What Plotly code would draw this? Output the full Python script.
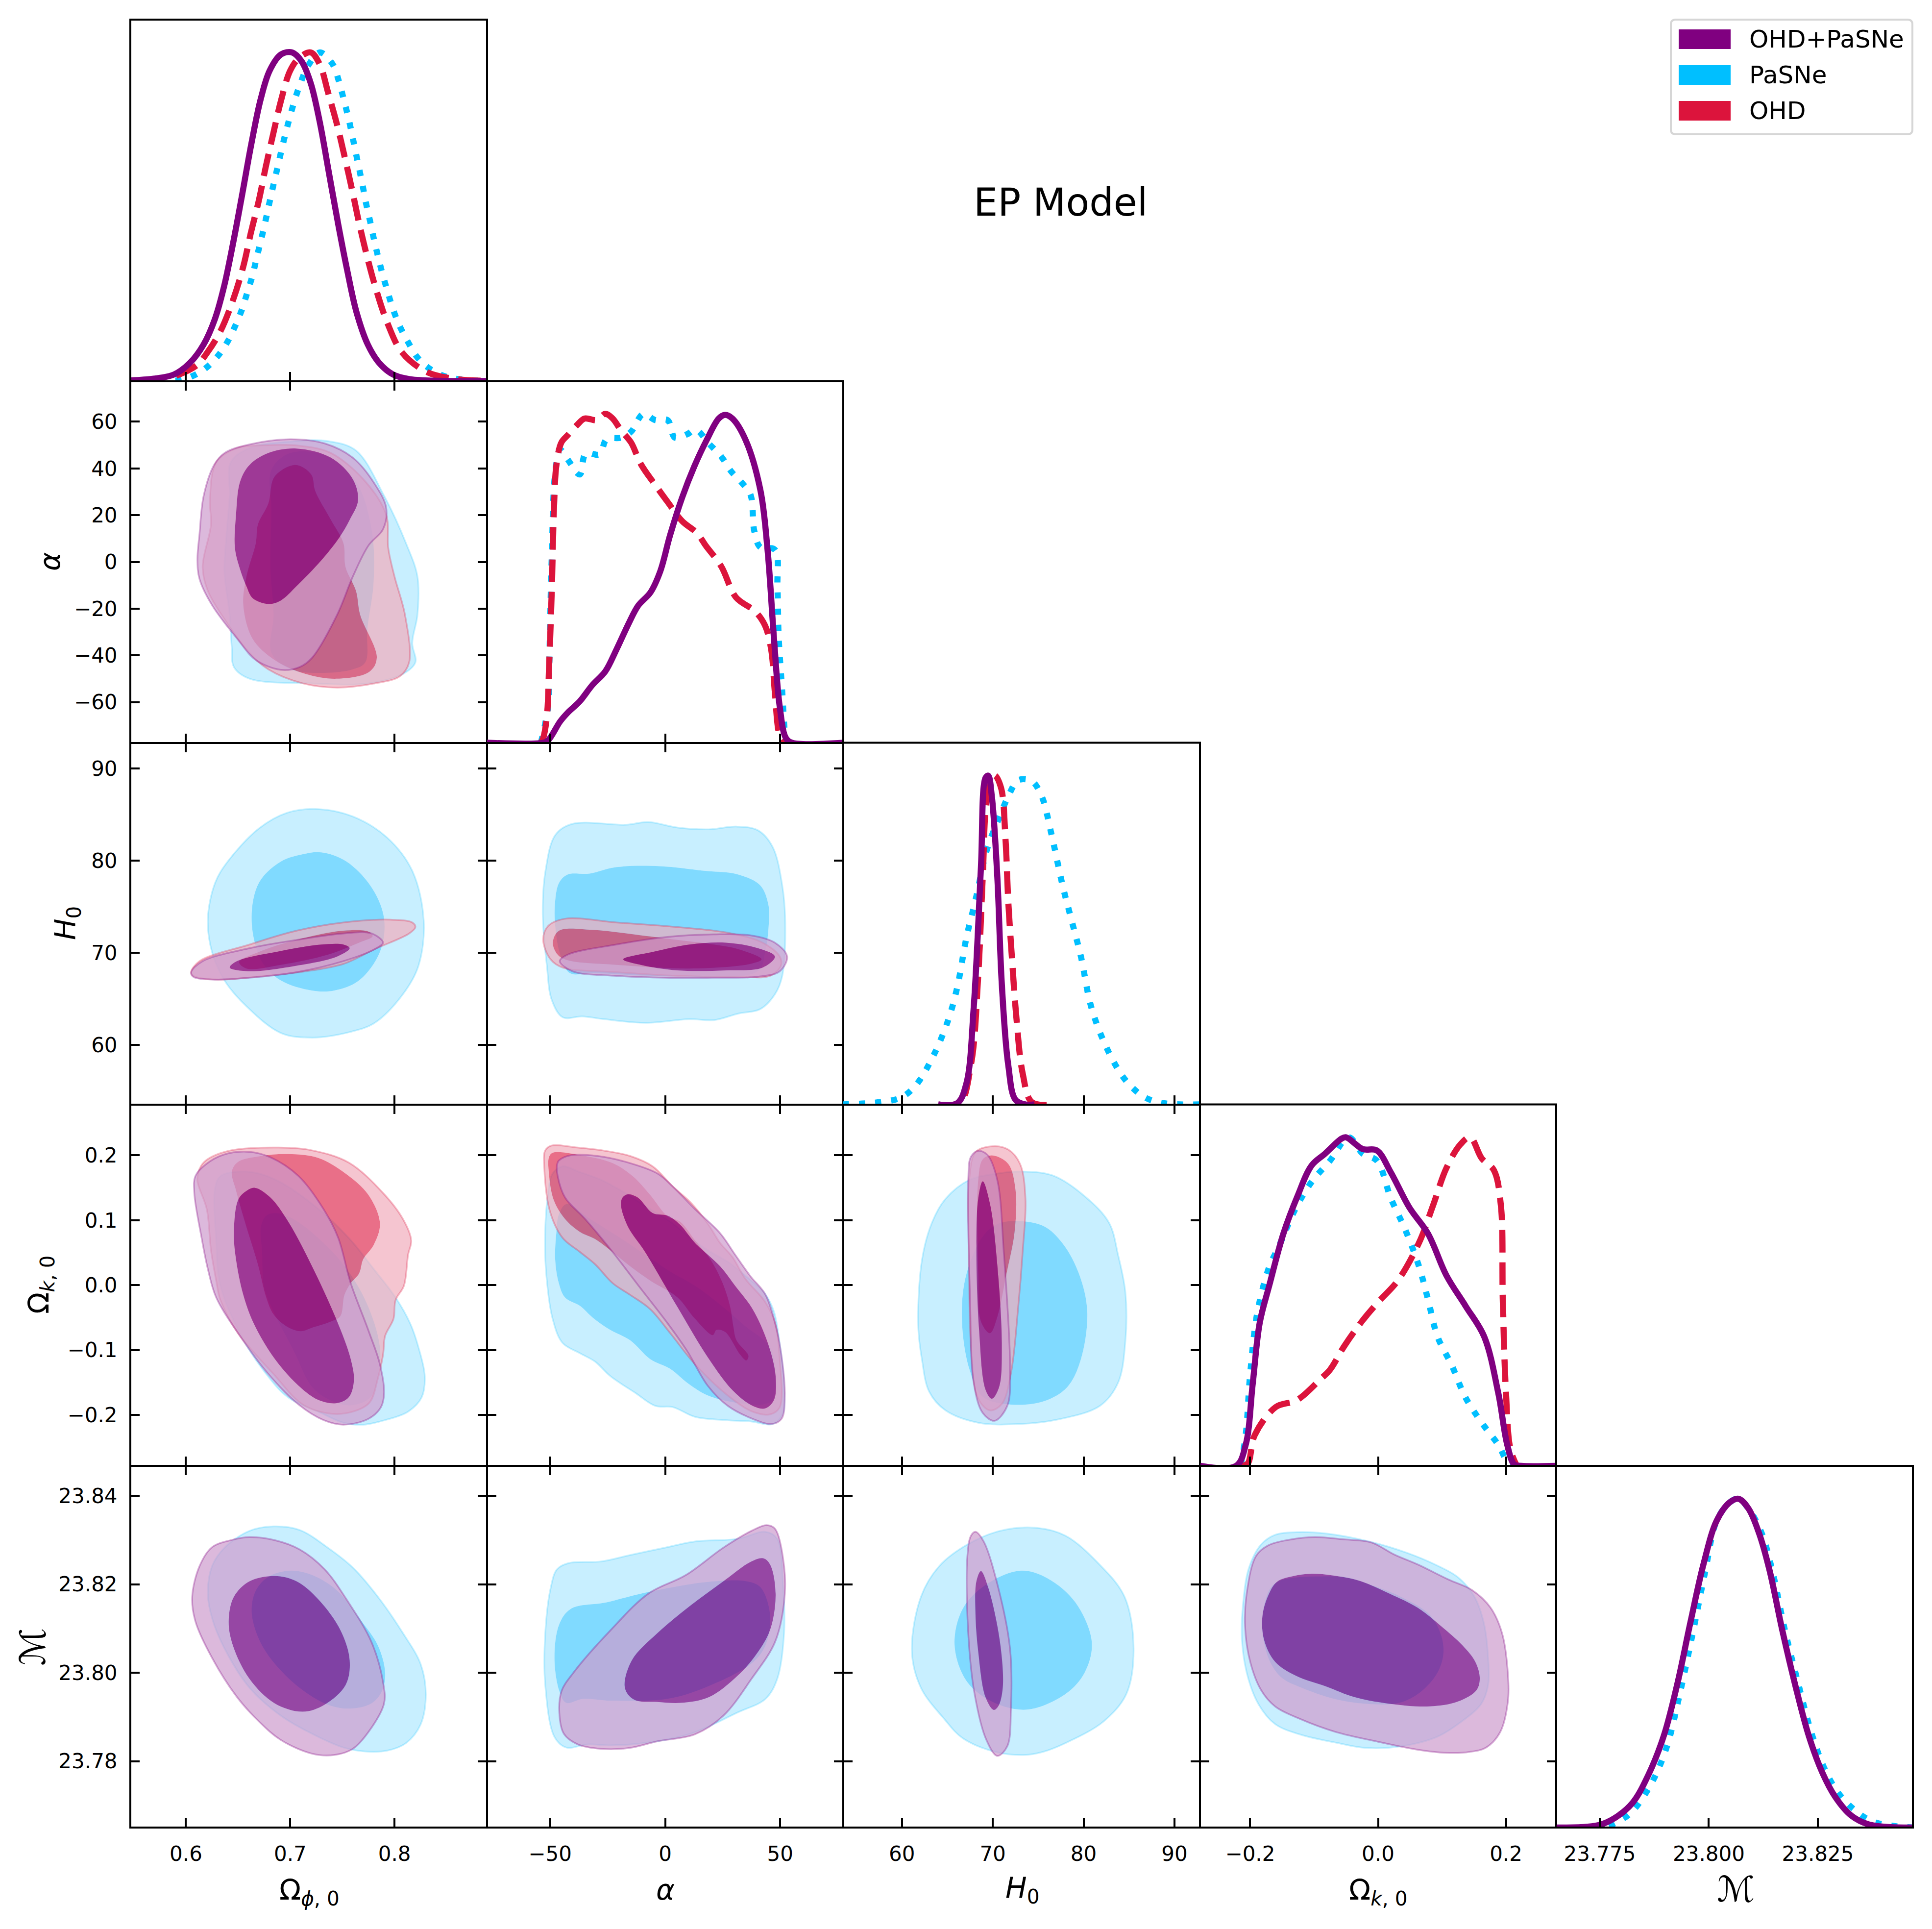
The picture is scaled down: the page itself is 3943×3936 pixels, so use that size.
import plotly.graph_objects as go

W, H = 3943, 3936
PURPLE, CYAN, CRIMSON = (128, 0, 128), (0, 191, 255), (220, 20, 60)
series_names = ["OHD+PaSNe", "PaSNe", "OHD"]
axis_titles = ["Ω<sub><i>ϕ</i>, 0</sub>", "<i>α</i>", "<i>H</i><sub>0</sub>", "Ω<sub><i>k</i>, 0</sub>", "ℳ"]

x_ticks = [[0.6, 0.7, 0.8], [-50, 0, 50], [60, 70, 80, 90], [-0.2, 0.0, 0.2], [23.775, 23.800, 23.825]]
y_ticks = [None, [-60, -40, -20, 0, 20, 40, 60], [60, 70, 80, 90], [-0.2, -0.1, 0.0, 0.1, 0.2], [23.78, 23.80, 23.82, 23.84]]
axis_ranges = [[0.5467, 0.8887], [-77.4, 77.4], [53.55, 92.8], [-0.2785, 0.2785], [23.765, 23.8468]]

# ---------- 1D marginals (value, normalised density) ----------
omphi_purple = [(.547,.002),(.569,.007),(.5886,.02),(.6037,.055),(.6169,.111),(.6278,.189),(.6365,.287),(.6453,.421),(.654,.569),(.6628,.723),(.6716,.857),(.6803,.945),(.6912,.994),(.7018,1),(.7109,.973),(.7197,.906),(.7284,.787),(.7372,.632),(.746,.477),(.7547,.336),(.7635,.21),(.7744,.111),(.7853,.055),(.7985,.02),(.8138,.006),(.8379,.001),(.888,0)]
omphi_crimson = [(.5906,.016),(.6103,.048),(.6212,.09),(.6333,.153),(.6453,.248),(.6551,.35),(.6621,.449),(.67,.551),(.6766,.653),(.6838,.754),(.6912,.854),(.7,.945),(.7088,.984),(.7197,1),(.7284,.963),(.7363,.878),(.7449,.78),(.7525,.678),(.7595,.579),(.7663,.477),(.774,.375),(.7825,.277),(.793,.178),(.8072,.087),(.8313,.027),(.8597,.006),(.888,.001)]
omphi_cyan = [(.59,.001),(.6015,.009),(.6168,.034),(.6295,.072),(.6394,.117),(.647,.166),(.6536,.217),(.6589,.27),(.6639,.322),(.6678,.375),(.672,.429),(.6759,.482),(.6796,.536),(.6834,.59),(.6873,.643),(.6912,.697),(.6952,.75),(.6996,.803),(.7044,.856),(.71,.908),(.717,.959),(.7284,1),(.7405,.965),(.7466,.913),(.751,.861),(.7554,.806),(.7591,.753),(.7626,.699),(.7661,.646),(.7696,.592),(.7729,.538),(.7766,.486),(.7803,.431),(.7842,.379),(.7886,.324),(.7934,.272),(.7985,.219),(.805,.167),(.8127,.12),(.8219,.072),(.8339,.037),(.8495,.013),(.8663,.004),(.888,.001)]

alpha_purple = [(-77.6,0),(-53,0),(-50.9,.007),(-45.6,.065),(-42.4,.091),(-37.1,.126),(-31.8,.174),(-26,.217),(-21.2,.283),(-15.9,.362),(-11.7,.417),(-6.4,.457),(-2.1,.522),(2.1,.630),(7.4,.746),(12.7,.841),(18,.920),(23.3,.986),(26,.997),(29.2,.986),(35,.920),(41.4,.768),(44.5,.587),(47.2,.326),(49.8,.109),(52.5,.014),(55.1,0),(77.4,0)]
alpha_crimson = [(-54,0),(-53,.014),(-51.4,.080),(-50.4,.239),(-49.3,.457),(-48.3,.717),(-47.2,.848),(-45.1,.913),(-42.4,.935),(-38.2,.967),(-35,.986),(-29.7,.981),(-26,1),(-22.8,.986),(-19.1,.949),(-14.8,.913),(-10.6,.848),(-4.2,.783),(1.1,.732),(7.4,.674),(13.8,.638),(17.5,.601),(24.4,.536),(30.8,.442),(39.2,.399),(43.5,.355),(46.1,.283),(47.7,.152),(49.8,.022),(52,0)]
alpha_cyan = [(-54,0),(-50.9,.109),(-50.4,.225),(-49.3,.558),(-47.7,.826),(-45.6,.891),(-42.4,.862),(-37.1,.816),(-34.5,.880),(-28.6,.877),(-25.4,.923),(-19.1,.928),(-14.8,.946),(-9.5,1),(-4.2,.981),(1.1,.981),(4.2,.928),(9.5,.938),(13.3,.952),(19.1,.909),(24.4,.870),(28.6,.826),(33.4,.790),(37.1,.754),(38.7,.645),(41.4,.594),(47.7,.587),(48.8,.471),(49.3,.326),(50.9,.152),(52,.036),(53,0)]

h0_purple = [(64,0),(66.1,.004),(67.1,.064),(67.9,.293),(68.7,.721),(69.2,.993),(69.5,1),(69.9,.936),(70.5,.693),(71,.364),(71.7,.121),(72.5,.014),(73.6,0),(74.6,0)]
h0_crimson = [(64,0),(66.3,0),(67.6,.121),(68.4,.393),(68.9,.693),(69.4,.936),(70.2,1),(70.9,.964),(71.4,.807),(71.7,.621),(72.1,.45),(72.6,.264),(73.3,.093),(74.3,.007),(76.4,0)]
h0_cyan = [(53.5,0),(57.6,.007),(59.9,.021),(61.5,.057),(63.5,.15),(65.1,.257),(66.1,.357),(67.1,.507),(68.1,.621),(69.4,.779),(70.7,.871),(71.8,.943),(72.8,.986),(74.3,.983),(75.4,.936),(76.4,.829),(77.7,.664),(78.7,.557),(79.7,.45),(80.8,.3),(82.3,.186),(84.1,.093),(85.4,.05),(86.9,.019),(89,.003),(92.7,0)]

omk_purple = [(-.278,0),(-.222,0),(-.207,.064),(-.196,.25),(-.185,.436),(-.170,.55),(-.148,.707),(-.126,.821),(-.104,.914),(-.083,.95),(-.057,.996),(-.050,1),(-.024,.964),(-.002,.96),(.020,.893),(.049,.786),(.078,.707),(.107,.579),(.137,.486),(.166,.393),(.188,.221),(.202,.064),(.213,.004),(.224,0),(.278,0)]
omk_crimson = [(-.215,0),(-.204,.007),(-.193,.093),(-.160,.179),(-.127,.2),(-.09,.264),(-.075,.293),(-.053,.364),(-.024,.443),(.001,.5),(.031,.564),(.064,.679),(.086,.793),(.107,.907),(.129,.979),(.144,1),(.162,.936),(.181,.9),(.192,.793),(.195,.507),(.2,.221),(.207,.05),(.217,0)]
omk_cyan = [(-.215,0),(-.207,.093),(-.200,.279),(-.189,.464),(-.170,.607),(-.156,.664),(-.130,.779),(-.104,.864),(-.075,.929),(-.046,1),(-.024,.95),(-.002,.929),(.020,.814),(.042,.721),(.064,.607),(.078,.507),(.093,.393),(.115,.307),(.137,.207),(.166,.121),(.188,.064),(.202,.014),(.213,0)]

m_purple = [(23.7651,0),(23.7746,.007),(23.7783,.028),(23.7825,.075),(23.7861,.159),(23.7897,.280),(23.7928,.438),(23.7958,.625),(23.7988,.802),(23.8018,.933),(23.8048,.989),(23.8068,1),(23.8091,.970),(23.8115,.896),(23.8139,.784),(23.8169,.597),(23.8199,.429),(23.8229,.280),(23.8260,.168),(23.829,.093),(23.8326,.037),(23.8368,.009),(23.8468,0)]
m_cyan = [(23.7771,.005),(23.7819,.042),(23.7867,.131),(23.7903,.243),(23.7934,.41),(23.7964,.597),(23.7991,.774),(23.8018,.933),(23.8048,.989),(23.8068,1),(23.8091,.970),(23.8121,.896),(23.8145,.784),(23.8175,.597),(23.8205,.438),(23.8235,.289),(23.8266,.177),(23.8296,.107),(23.8332,.056),(23.8374,.019),(23.8423,.005),(23.8468,0)]

# ---------- 2D contours: alpha vs Omega_phi ----------
a_phi_cyan_out = [(.736,51.7),(.763,47.7),(.790,28.3),(.811,8),(.822,-6.3),(.822,-22.6),(.817,-34.8),(.820,-43),(.808,-48),(.775,-52),(.721,-52),(.661,-50),(.646,-45),(.644,-37),(.642,-22.6),(.637,-4.3),(.639,12),(.642,28.3),(.643,42.6),(.661,48.7),(.706,51.7),(.736,51.7)]
a_phi_cyan_in = [(.700,46.6),(.733,45.6),(.763,34.4),(.778,14),(.780,-8.4),(.774,-28.7),(.772,-43),(.760,-46),(.733,-47.5),(.700,-46),(.682,-39),(.684,-22.6),(.681,-2.2),(.682,22),(.682,39.5),(.700,46.6)]
a_phi_crimson_out = [(.679,50),(.709,49.7),(.739,46.6),(.772,34.4),(.792,20.2),(.794,5.9),(.800,-6.3),(.810,-22.6),(.814,-43),(.805,-49),(.781,-52),(.745,-53.8),(.712,-52),(.679,-46),(.661,-39),(.637,-24.6),(.621,-12.4),(.616,-2.2),(.624,16),(.623,26.3),(.629,42.6),(.649,48.7),(.679,50)]
a_phi_crimson_in = [(.705,41.5),(.720,37.5),(.724,30.3),(.739,18),(.751,8),(.753,-2.2),(.763,-12.4),(.767,-22.6),(.783,-41),(.776,-47),(.745,-50),(.715,-48),(.685,-42),(.664,-33),(.655,-18.5),(.658,-6.3),(.667,8),(.669,16),(.679,25),(.685,36.5),(.705,41.5)]
a_phi_purple_out = [(.70,52.5),(.733,50.7),(.760,44.6),(.781,33.4),(.792,23.2),(.789,14),(.775,7),(.760,-6.3),(.745,-22.6),(.721,-41),(.709,-45),(.691,-46.2),(.667,-42),(.649,-32.8),(.625,-18.5),(.613,-7.3),(.611,.8),(.613,12),(.617,28.3),(.627,41.5),(.637,46.6),(.661,50.3),(.70,52.5)]
a_phi_purple_in = [(.706,48.5),(.739,44.6),(.760,35.4),(.765,26.3),(.757,18),(.747,10.4),(.730,.8),(.706,-10.4),(.691,-16.5),(.679,-18),(.664,-15.5),(.658,-10.4),(.652,-3.3),(.647,5.9),(.648,20),(.652,34.4),(.661,41.5),(.679,46.6),(.706,48.5)]

# ---------- H0 vs Omega_phi ----------
h_phi_cyan_out = [(.727,85.6),(.760,84.8),(.793,82.5),(.817,78.9),(.828,73.5),(.823,68.6),(.808,65.5),(.781,62.4),(.757,61.4),(.721,60.8),(.691,61.3),(.658,64.2),(.637,67),(.625,70.1),(.621,73.7),(.628,77.6),(.640,79.9),(.670,83.5),(.697,85.2),(.727,85.6)]
h_phi_cyan_in = [(.730,80.9),(.754,79.9),(.778,77.1),(.790,73.7),(.786,70.1),(.766,67),(.742,65.9),(.721,65.9),(.691,67),(.673,69),(.663,73.5),(.670,77.6),(.691,79.9),(.712,80.7),(.730,80.9)]
h_phi_crimson_out = [(.820,72.8),(.814,72.1),(.781,70.4),(.751,68.8),(.715,68),(.667,67.4),(.631,67.1),(.607,67.5),(.605,67.9),(.613,69.1),(.661,70.9),(.706,72.4),(.751,73.3),(.796,73.6),(.817,73.3),(.820,72.8)]
h_phi_crimson_in = [(.779,71.8),(.766,71.1),(.736,69.8),(.691,68.7),(.658,68.3),(.651,69),(.670,70.1),(.706,71.4),(.751,72.4),(.775,72.3),(.779,71.8)]
h_phi_purple_out = [(.789,71.1),(.781,70.4),(.751,69.1),(.706,67.9),(.661,67.3),(.625,67.1),(.607,67.4),(.605,67.9),(.616,69.1),(.661,70.5),(.706,71.4),(.751,72.1),(.778,72.1),(.789,71.1)]
h_phi_purple_in = [(.757,70.5),(.745,69.6),(.706,68.6),(.661,68),(.642,68.4),(.649,69.1),(.691,70.2),(.730,70.9),(.751,70.9),(.757,70.5)]

# ---------- Omega_k vs Omega_phi ----------
k_phi_cyan_out = [(.657,.175),(.684,.164),(.722,.124),(.756,.073),(.780,.025),(.801,-.019),(.815,-.059),(.823,-.096),(.829,-.140),(.826,-.173),(.813,-.195),(.791,-.208),(.770,-.215),(.751,-.212),(.727,-.195),(.698,-.173),(.677,-.137),(.653,-.078),(.633,0),(.629,.069),(.628,.150),(.633,.168),(.657,.175)]
k_phi_cyan_in = [(.686,.111),(.703,.102),(.732,.065),(.756,.021),(.775,-.034),(.786,-.096),(.784,-.144),(.777,-.173),(.760,-.185),(.744,-.181),(.722,-.159),(.703,-.100),(.684,-.041),(.675,-.004),(.673,.051),(.672,.091),(.677,.107),(.686,.111)]
k_phi_crimson_out = [(.689,.212),(.720,.208),(.756,.189),(.789,.142),(.808,.102),(.816,.069),(.813,.047),(.809,-.001),(.801,-.023),(.799,-.052),(.791,-.078),(.789,-.107),(.784,-.144),(.776,-.181),(.760,-.195),(.739,-.198),(.712,-.184),(.684,-.137),(.650,-.074),(.633,-.023),(.629,.007),(.624,.054),(.620,.117),(.611,.161),(.613,.179),(.619,.192),(.641,.207),(.689,.212)]
k_phi_crimson_in = [(.698,.202),(.727,.196),(.753,.172),(.775,.139),(.786,.095),(.780,.062),(.770,.040),(.766,.018),(.758,.003),(.752,-.015),(.748,-.048),(.739,-.056),(.722,-.065),(.710,-.071),(.696,-.063),(.684,-.045),(.677,-.019),(.669,.032),(.657,.095),(.648,.146),(.644,.175),(.650,.190),(.672,.199),(.698,.202)]
k_phi_purple_out = [(.660,.2055),(.681,.197),(.708,.168),(.732,.117),(.746,.073),(.758,.003),(.775,-.070),(.786,-.122),(.790,-.166),(.787,-.188),(.775,-.206),(.751,-.215),(.732,-.208),(.708,-.184),(.679,-.137),(.650,-.074),(.629,-.019),(.621,.025),(.615,.073),(.608,.142),(.609,.168),(.619,.186),(.636,.201),(.660,.2055)]
k_phi_purple_in = [(.666,.150),(.681,.135),(.698,.098),(.720,.032),(.744,-.052),(.758,-.114),(.761,-.148),(.756,-.173),(.744,-.182),(.727,-.177),(.708,-.155),(.684,-.111),(.665,-.059),(.655,-.015),(.648,.040),(.646,.080),(.650,.131),(.657,.144),(.666,.150)]

# ---------- M vs Omega_phi ----------
m_phi_cyan_out = [(.684,23.8331),(.709,23.8323),(.736,23.8283),(.760,23.8238),(.784,23.8172),(.808,23.809),(.825,23.802),(.830,23.7952),(.825,23.7883),(.811,23.7841),(.793,23.7824),(.772,23.7822),(.751,23.7831),(.721,23.7862),(.691,23.7903),(.661,23.7966),(.637,23.8055),(.625,23.8124),(.621,23.8179),(.625,23.8241),(.637,23.8283),(.661,23.8321),(.684,23.8331)]
m_phi_cyan_in = [(.700,23.8231),(.721,23.8221),(.745,23.8186),(.766,23.8124),(.784,23.8062),(.791,23.80),(.788,23.7959),(.778,23.7931),(.757,23.7919),(.736,23.7928),(.709,23.7966),(.685,23.8021),(.670,23.8076),(.663,23.8138),(.667,23.8186),(.679,23.8217),(.700,23.8231)]
m_phi_purple_out = [(.661,23.8307),(.685,23.83),(.709,23.8279),(.733,23.8234),(.754,23.8166),(.778,23.8069),(.789,23.7979),(.790,23.7931),(.778,23.7876),(.760,23.7828),(.742,23.7814),(.721,23.7817),(.691,23.7848),(.670,23.789),(.649,23.7945),(.625,23.8034),(.609,23.8117),(.606,23.8172),(.613,23.8241),(.625,23.8284),(.643,23.83),(.661,23.8307)]
m_phi_purple_in = [(.685,23.8219),(.706,23.8207),(.727,23.8166),(.748,23.8097),(.757,23.8028),(.753,23.7972),(.733,23.7928),(.712,23.7912),(.685,23.7931),(.661,23.7986),(.645,23.8062),(.641,23.8117),(.646,23.8172),(.661,23.8207),(.685,23.8219)]

# ---------- H0 vs alpha ----------
h_a_cyan_out = [(-40.3,84),(-17,83.9),(-7.4,84.2),(5.3,83.6),(19,83.4),(30.8,83.7),(40.3,83.3),(46.7,81.5),(50.9,77.3),(52.2,73.2),(50.9,67.5),(47.7,65.5),(41.4,63.9),(31.8,63.4),(21.2,62.7),(10.6,62.8),(-8.5,62.4),(-26.5,62.8),(-36.1,63.1),(-44.5,63),(-49.3,64.9),(-51.4,68.6),(-53.2,74.2),(-52,78.9),(-47.7,82.8),(-40.3,84)]
h_a_cyan_in = [(-42.4,78.5),(-32.9,78.6),(-21.2,79.3),(-2.1,79.4),(17,78.9),(31.8,78.5),(41.4,77.3),(44.8,75.3),(45.1,73.5),(43.5,70.1),(40.3,68),(0,67.5),(-31.8,67.8),(-41.4,67.8),(-45.6,69.8),(-47.7,72.7),(-47.9,75.3),(-46.1,77.6),(-42.4,78.5)]
h_a_crimson_out = [(-53,71.4),(-50.9,72.9),(-43.5,73.7),(-21.2,73.3),(5.3,72.8),(26.7,72.2),(42.4,71.1),(49.8,69.6),(50.3,68.6),(45.6,67.5),(31.8,67.4),(5.3,67.5),(-21.2,67.9),(-44.5,68.4),(-49.8,69.3),(-53,71.4)]
h_a_crimson_in = [(-48.8,71.1),(-46.1,72.4),(-31.8,72.5),(-10.6,71.9),(5.3,71.4),(21.2,70.9),(31.8,70.4),(41.9,69.3),(37.1,68.8),(10.6,68.3),(-21.2,68.7),(-42.4,69.2),(-46.7,69.8),(-48.8,71.1)]
h_a_purple_out = [(-45.8,69.1),(-42.4,69.8),(-21.2,70.9),(0,71.7),(21.2,72),(37.1,71.9),(47.7,71.1),(53,69.6),(49.8,68),(40.3,67.4),(21.2,67.3),(0,67.3),(-21.2,67.5),(-40.3,68),(-45.8,69.1)]
h_a_purple_in = [(-18.2,69.3),(-5.3,70.1),(10.6,70.9),(26.5,71.1),(40.3,70.5),(47.7,69.6),(42.4,68.4),(26.5,68.1),(5.3,68.1),(-10.6,68.7),(-18.2,69.3)]

# ---------- Omega_k vs alpha ----------
k_a_cyan_out = [(-44.6,.183),(-37,.174),(-28.3,.163),(-17.4,.142),(-6.5,.117),(2.2,.098),(10.9,.073),(18.5,.054),(27.2,.036),(33.7,.018),(43.5,-.014),(47.3,-.041),(50,-.096),(51.6,-.151),(51,-.199),(46.7,-.214),(37,-.210),(26.1,-.208),(13,-.203),(3.3,-.188),(-4.3,-.186),(-13,-.166),(-23.9,-.140),(-30.4,-.118),(-37,-.105),(-44.6,-.089),(-48.9,-.052),(-51.6,.014),(-52.2,.069),(-51.1,.135),(-48.9,.172),(-44.6,.183)]
k_a_cyan_in = [(-42.9,.125),(-32.6,.102),(-19.6,.073),(-8.7,.047),(2.2,.021),(13,-.001),(23.9,-.030),(34.8,-.063),(45.7,-.096),(48,-.144),(46.7,-.177),(42.4,-.184),(30.4,-.181),(18.5,-.170),(9.8,-.151),(2.2,-.129),(-6.5,-.114),(-15.2,-.085),(-23.9,-.069),(-31.5,-.050),(-37,-.032),(-43.5,-.019),(-46.2,.003),(-47.8,.040),(-47.3,.080),(-46.2,.109),(-42.9,.125)]
k_a_crimson_out = [(-49.5,.215),(-38,.212),(-26,.207),(-15.2,.199),(-5.4,.183),(3.3,.152),(10.9,.128),(18.5,.095),(23.9,.065),(29.3,.043),(34.8,.010),(43.5,-.026),(47.8,-.059),(49.8,-.114),(49.8,-.188),(45.7,-.199),(38,-.195),(27.2,-.170),(13,-.122),(2.2,-.074),(-6.5,-.037),(-15.2,-.015),(-22.8,.003),(-30.4,.032),(-37,.051),(-44.6,.073),(-50,.113),(-52.5,.179),(-52.2,.207),(-49.5,.215)]
k_a_crimson_in = [(-48.9,.204),(-34.8,.199),(-22.8,.188),(-14.1,.168),(-6.5,.139),(1.1,.106),(6.5,.098),(13,.069),(19.6,.040),(25,.003),(28.3,-.034),(29.6,-.063),(31,-.085),(36.2,-.109),(35.3,-.116),(32.6,-.107),(26,-.072),(22.3,-.069),(20.7,-.077),(13,-.052),(5.4,-.019),(-6.5,.007),(-15.2,.029),(-23.9,.054),(-30.4,.071),(-37,.082),(-43.5,.102),(-48.4,.131),(-50.5,.172),(-50.5,.197),(-48.9,.204)]
k_a_purple_out = [(-46.2,.192),(-41.3,.200),(-29.3,.199),(-15.2,.188),(-3.3,.172),(3.3,.152),(13,.117),(23.9,.080),(30.4,.047),(37,.014),(43.5,-.014),(47.8,-.059),(50.5,-.107),(52,-.170),(50.6,-.206),(46.2,-.214),(38,-.206),(27.2,-.186),(18.5,-.155),(9.8,-.103),(1.1,-.059),(-10.9,-.004),(-22.8,.051),(-34.8,.102),(-43.5,.135),(-46.7,.168),(-47,.185),(-46.2,.192)]
k_a_purple_in = [(-16.3,.140),(-11.9,.135),(-5.4,.111),(1.1,.107),(6.5,.093),(13,.065),(23.9,.029),(30.4,-.001),(38,-.037),(44.6,-.089),(48,-.140),(47.3,-.177),(43.5,-.190),(38,-.186),(29.3,-.162),(18.5,-.111),(5.4,-.034),(-8.7,.051),(-16.3,.091),(-19.2,.124),(-18.5,.135),(-16.3,.140)]

# ---------- M vs alpha ----------
m_a_cyan_out = [(-42,23.8248),(-27.7,23.8252),(-15.5,23.8266),(.8,23.8284),(13,23.8297),(31.4,23.8303),(43.6,23.8319),(48.7,23.8303),(51.3,23.8193),(51.7,23.809),(48.7,23.7986),(43.6,23.7941),(31.4,23.791),(11,23.7862),(-9.4,23.7841),(-23.6,23.7836),(-33.8,23.7838),(-43,23.7831),(-48.1,23.7855),(-52.1,23.7972),(-52.1,23.809),(-49.7,23.8193),(-47,23.8234),(-42,23.8248)]
m_a_cyan_in = [(-40.9,23.8145),(-25.7,23.8159),(-11.4,23.8178),(6.9,23.8197),(19.1,23.8206),(35.4,23.8207),(41.5,23.8193),(45.6,23.8131),(43.6,23.8062),(37.5,23.8021),(17.1,23.7966),(.8,23.7941),(-23.6,23.7937),(-35.8,23.7941),(-43,23.7932),(-46,23.7959),(-48.1,23.8034),(-46,23.811),(-40.9,23.8145)]
m_a_purple_out = [(44,23.8334),(47.7,23.8326),(51.7,23.8241),(51.7,23.8159),(47.7,23.8069),(37.5,23.7986),(25.3,23.7903),(13,23.7861),(-3.3,23.7845),(-15.5,23.783),(-27.7,23.7828),(-37.9,23.7838),(-44,23.7862),(-46,23.791),(-45,23.7959),(-39.9,23.80),(-23.6,23.8097),(-7.3,23.8179),(9,23.8221),(25.3,23.8283),(37.5,23.8321),(44,23.8334)]
m_a_purple_in = [(42.6,23.8259),(45.6,23.8245),(48,23.8179),(45.6,23.8097),(39.5,23.8041),(31.4,23.7993),(19.1,23.7945),(6.9,23.7932),(-3.3,23.7934),(-13.4,23.7939),(-17.5,23.7966),(-14.5,23.8028),(-3.3,23.809),(11,23.8152),(25.3,23.8207),(37.5,23.8252),(42.6,23.8259)]

# ---------- Omega_k vs H0 ----------
k_h_cyan_out = [(73,.175),(76.6,.169),(80.2,.136),(82.8,.096),(83.8,.046),(84.6,-.012),(84.6,-.085),(83.8,-.150),(81.8,-.186),(77.2,-.207),(73,-.214),(68.4,-.212),(64.8,-.193),(63,-.164),(62.2,-.114),(61.8,-.063),(62.2,.038),(63.3,.096),(64.8,.133),(67.4,.162),(70.5,.172),(73,.175)]
k_h_cyan_in = [(72.5,.099),(75.6,.091),(77.7,.064),(79.5,.017),(80.4,-.041),(79.7,-.114),(78.2,-.157),(75.6,-.179),(72,-.184),(68.9,-.172),(67.4,-.128),(66.6,-.049),(67.1,.017),(68.9,.075),(70.5,.094),(72.5,.099)]
k_h_crimson_out = [(69.9,.214),(71.7,.209),(73,.187),(73.6,.133),(73.3,.053),(72.8,-.034),(72,-.136),(71,-.183),(69.7,-.193),(68.4,-.175),(67.6,-.092),(67.4,.053),(67.4,.162),(68.1,.205),(69.9,.214)]
k_h_crimson_in = [(69.9,.200),(71.7,.187),(72.5,.147),(72.4,.082),(71.5,.017),(70.5,-.049),(69.7,-.074),(68.7,-.056),(68.4,.017),(68.4,.162),(68.9,.194),(69.9,.200)]
k_h_purple_out = [(68.4,.207),(69.4,.201),(70.5,.162),(71.2,.053),(71.9,-.128),(71.6,-.186),(70.2,-.209),(68.9,-.197),(67.9,-.150),(67.5,-.020),(67.3,.162),(67.6,.198),(68.4,.207)]
k_h_purple_in = [(68.9,.160),(69.7,.125),(70.5,.031),(71,-.092),(70.7,-.157),(69.9,-.175),(69.2,-.161),(68.5,-.070),(68.2,.053),(68.4,.133),(68.9,.160)]

# ---------- M vs H0 ----------
m_h_cyan_out = [(74.7,23.8328),(78,23.831),(81.6,23.8248),(84.5,23.8172),(85.5,23.8055),(84.7,23.7952),(82.2,23.789),(78,23.7841),(75.5,23.7821),(73.4,23.7814),(70.3,23.7821),(66.7,23.7852),(64.6,23.7897),(62.1,23.7966),(61.1,23.8048),(62.1,23.8172),(64.1,23.8241),(67.2,23.829),(70.8,23.8321),(74.7,23.8328)]
m_h_cyan_in = [(73.1,23.8231),(76,23.8214),(79.1,23.8159),(80.9,23.8069),(80.1,23.80),(78,23.7952),(73.9,23.7917),(70.3,23.7931),(67.2,23.7979),(65.8,23.8062),(66.7,23.8145),(69.3,23.82),(73.1,23.8231)]
m_h_purple_out = [(68.1,23.8319),(69,23.8297),(70.6,23.8193),(71.9,23.8055),(72,23.7917),(71.6,23.7834),(70.5,23.7812),(69.3,23.7848),(68,23.7952),(67.3,23.809),(67.2,23.8262),(67.6,23.831),(68.1,23.8319)]
m_h_purple_in = [(68.7,23.823),(69.5,23.8193),(70.8,23.8069),(71.1,23.7966),(70.6,23.7924),(70.1,23.7916),(69.2,23.7945),(68.4,23.8048),(68.1,23.8131),(68.2,23.8207),(68.7,23.823)]

# ---------- M vs Omega_k ----------
m_k_cyan_out = [(-.128,23.8318),(-.081,23.8315),(-.011,23.8296),(.044,23.8272),(.092,23.8243),(.125,23.8216),(.150,23.8174),(.165,23.8115),(.172,23.8036),(.172,23.7972),(.161,23.7929),(.128,23.7887),(.092,23.7855),(.037,23.7834),(-.018,23.7830),(-.066,23.7842),(-.121,23.7860),(-.161,23.7884),(-.187,23.7929),(-.205,23.7998),(-.213,23.8078),(-.211,23.8158),(-.202,23.8237),(-.183,23.8290),(-.161,23.8312),(-.128,23.8318)]
m_k_cyan_in = [(-.088,23.8218),(-.051,23.8216),(-.004,23.8195),(.037,23.8171),(.081,23.8131),(.099,23.8083),(.102,23.8041),(.092,23.7998),(.066,23.7956),(.033,23.7932),(-.011,23.7929),(-.066,23.794),(-.121,23.7967),(-.150,23.7988),(-.169,23.8025),(-.18,23.8083),(-.18,23.8136),(-.169,23.819),(-.154,23.8208),(-.125,23.8216),(-.088,23.8218)]
m_k_purple_out = [(-.099,23.8307),(-.055,23.8302),(-.011,23.8295),(.026,23.8267),(.062,23.8245),(.110,23.8211),(.147,23.8187),(.176,23.8147),(.194,23.8089),(.203,23.7998),(.203,23.7935),(.191,23.7866),(.169,23.7831),(.143,23.7821),(.106,23.7819),(.062,23.7826),(0,23.7844),(-.066,23.7866),(-.121,23.7895),(-.161,23.7924),(-.183,23.7961),(-.2,23.8025),(-.208,23.8105),(-.205,23.8184),(-.191,23.8264),(-.172,23.8288),(-.139,23.8301),(-.099,23.8307)]
m_k_purple_in = [(-.106,23.8224),(-.07,23.822),(-.029,23.8208),(.018,23.8179),(.062,23.8147),(.099,23.8105),(.132,23.8062),(.152,23.8025),(.159,23.7988),(.154,23.7961),(.125,23.7935),(.081,23.7924),(.018,23.793),(-.037,23.7945),(-.081,23.7969),(-.128,23.7993),(-.161,23.8025),(-.178,23.8073),(-.181,23.8126),(-.172,23.8174),(-.158,23.8206),(-.132,23.8219),(-.106,23.8224)]

marginals = {
    0: [(omphi_cyan, 1), (omphi_crimson, 2), (omphi_purple, 0)],
    1: [(alpha_cyan, 1), (alpha_crimson, 2), (alpha_purple, 0)],
    2: [(h0_cyan, 1), (h0_crimson, 2), (h0_purple, 0)],
    3: [(omk_cyan, 1), (omk_crimson, 2), (omk_purple, 0)],
    4: [(m_cyan, 1), (m_purple, 0)],
}
panels = {
    (1, 0): [(a_phi_cyan_out, a_phi_cyan_in, 1), (a_phi_crimson_out, a_phi_crimson_in, 2), (a_phi_purple_out, a_phi_purple_in, 0)],
    (2, 0): [(h_phi_cyan_out, h_phi_cyan_in, 1), (h_phi_crimson_out, h_phi_crimson_in, 2), (h_phi_purple_out, h_phi_purple_in, 0)],
    (3, 0): [(k_phi_cyan_out, k_phi_cyan_in, 1), (k_phi_crimson_out, k_phi_crimson_in, 2), (k_phi_purple_out, k_phi_purple_in, 0)],
    (4, 0): [(m_phi_cyan_out, m_phi_cyan_in, 1), (m_phi_purple_out, m_phi_purple_in, 0)],
    (2, 1): [(h_a_cyan_out, h_a_cyan_in, 1), (h_a_crimson_out, h_a_crimson_in, 2), (h_a_purple_out, h_a_purple_in, 0)],
    (3, 1): [(k_a_cyan_out, k_a_cyan_in, 1), (k_a_crimson_out, k_a_crimson_in, 2), (k_a_purple_out, k_a_purple_in, 0)],
    (4, 1): [(m_a_cyan_out, m_a_cyan_in, 1), (m_a_purple_out, m_a_purple_in, 0)],
    (3, 2): [(k_h_cyan_out, k_h_cyan_in, 1), (k_h_crimson_out, k_h_crimson_in, 2), (k_h_purple_out, k_h_purple_in, 0)],
    (4, 2): [(m_h_cyan_out, m_h_cyan_in, 1), (m_h_purple_out, m_h_purple_in, 0)],
    (4, 3): [(m_k_cyan_out, m_k_cyan_in, 1), (m_k_purple_out, m_k_purple_in, 0)],
}

# ---------- styling ----------
col_edges = [266, 994, 1721, 2449, 3176, 3904]
row_edges = [40, 777.5, 1515.5, 2253.5, 2991, 3729]
BASE = [PURPLE, CYAN, CRIMSON]
BAND_ALPHA = 0.7
OUT_TINT = [(205, 155, 205), (176, 232, 255), (241, 172, 188)]
IN_TINT = [(128, 0, 126), (74, 202, 255), (224, 50, 85)]
EDGE_ALPHA = [0.3, 0.2, 0.27]
DASH = ["solid", "12.5px,20.5px", "46px,20px"]
FONT = "DejaVu Sans"
tick_formats = [".1f", "d", "d", ".1f", ".3f"]
ytick_formats = [None, "d", "d", ".1f", ".2f"]


def rgba(c, a):
    return f"rgba({c[0]},{c[1]},{c[2]},{a})"


fig = go.Figure()
axis_count = 0


def add_axes(row, col):
    global axis_count
    axis_count += 1
    n = axis_count
    diag = row == col
    xa = dict(
        domain=[col_edges[col] / W, col_edges[col + 1] / W],
        range=axis_ranges[col], anchor=f"y{n}", showgrid=False, zeroline=False,
        showline=True, linecolor="black", linewidth=2, mirror=True if diag else "ticks",
        ticks="inside", ticklen=19, tickwidth=4, tickcolor="black",
        tickmode="array", tickvals=x_ticks[col], tickformat=tick_formats[col],
        showticklabels=row == 4, ticklabelstandoff=16,
        tickfont=dict(family=FONT, size=42, color="black"),
    )
    ya = dict(
        domain=[1 - row_edges[row + 1] / H, 1 - row_edges[row] / H],
        anchor=f"x{n}", showgrid=False, zeroline=False,
        showline=True, linecolor="black", linewidth=2, mirror=True if diag else "ticks",
        tickfont=dict(family=FONT, size=42, color="black"),
    )
    if diag:
        ya.update(range=[0, 1.1], ticks="", showticklabels=False)
    else:
        ya.update(range=axis_ranges[row], ticks="inside", ticklen=19, tickwidth=4, tickcolor="black",
                  tickmode="array", tickvals=y_ticks[row], tickformat=ytick_formats[row],
                  showticklabels=col == 0, ticklabelstandoff=16)
    key = "" if n == 1 else str(n)
    fig.update_layout({f"xaxis{key}": xa, f"yaxis{key}": ya})
    return ("x" if n == 1 else f"x{n}"), ("y" if n == 1 else f"y{n}")


def unzip(points):
    return [p[0] for p in points], [p[1] for p in points]


for r in range(5):
    for c in range(r + 1):
        xid, yid = add_axes(r, c)
        if r == c:
            for pts, s in marginals[c]:
                xs, ys = unzip(pts)
                fig.add_trace(go.Scatter(
                    x=xs, y=ys, xaxis=xid, yaxis=yid, mode="lines", name=series_names[s], showlegend=False,
                    hoverinfo="skip",
                    line=dict(color=rgba(BASE[s], 1), width=12.5, dash=DASH[s], shape="spline", smoothing=1)))
        else:
            for out_pts, in_pts, s in panels[(r, c)]:
                ox, oy = unzip(out_pts)
                ix, iy = unzip(in_pts)
                # outer credible band: outer contour with the inner one cut out
                fig.add_trace(go.Scatter(
                    x=ox + [None] + ix[::-1], y=oy + [None] + iy[::-1], xaxis=xid, yaxis=yid, mode="lines",
                    fill="toself", name=series_names[s], showlegend=False, hoverinfo="skip",
                    fillcolor=rgba(OUT_TINT[s], BAND_ALPHA),
                    line=dict(color="rgba(0,0,0,0)", width=0, shape="spline", smoothing=1)))
                # inner credible region
                fig.add_trace(go.Scatter(
                    x=ix, y=iy, xaxis=xid, yaxis=yid, mode="lines", fill="toself", name=series_names[s],
                    showlegend=False, hoverinfo="skip", fillcolor=rgba(IN_TINT[s], BAND_ALPHA),
                    line=dict(color="rgba(0,0,0,0)", width=0, shape="spline", smoothing=1)))
                # outer edge
                fig.add_trace(go.Scatter(
                    x=ox, y=oy, xaxis=xid, yaxis=yid, mode="lines", name=series_names[s], showlegend=False,
                    hoverinfo="skip",
                    line=dict(color=rgba(BASE[s], EDGE_ALPHA[s]), width=3.5, shape="spline", smoothing=1)))


def px_x(v):
    return v / W


def px_y(v):
    return 1 - v / H


annotations = []


def text(t, x, y, size, angle=0, xanchor="center"):
    annotations.append(dict(text=t, x=px_x(x), y=px_y(y), xref="paper", yref="paper", showarrow=False,
                            xanchor=xanchor, yanchor="middle", textangle=angle,
                            font=dict(family=FONT, size=size, color="black")))


# axis titles
for t, x, y, s in zip(axis_titles, [631, 1358, 2086, 2812, 3542], [3860, 3856, 3856, 3860, 3855], [58, 58, 58, 58, 72]):
    text(t, x, y, s)
for t, x, y, s in zip(axis_titles[1:], [102, 137, 83, 67], [1146, 1884, 2622, 3361], [58, 58, 58, 72]):
    text(t, x, y, s, angle=-90)
text("EP Model", 2164, 413, 78)

shapes = []
# outer staircase of the triangle: interior panel borders are formed by two adjacent axis lines
stairs = [(col_edges[0], row_edges[5]), (col_edges[0], row_edges[0])]
for i in range(5):
    stairs += [(col_edges[i + 1], row_edges[i]), (col_edges[i + 1], row_edges[i + 1])]
stairs += [(col_edges[0], row_edges[5])]
path = "M" + " L".join(f"{px_x(a)},{px_y(b)}" for a, b in stairs)
shapes.append(dict(type="path", xref="paper", yref="paper", path=path, line=dict(color="black", width=4), layer="above"))

# legend, drawn to the reference's proportions
L, R, T, B = 3410, 3903, 40, 274
rad = 10
path = (f"M{px_x(L+rad)},{px_y(T)} L{px_x(R-rad)},{px_y(T)} Q{px_x(R)},{px_y(T)} {px_x(R)},{px_y(T+rad)} "
        f"L{px_x(R)},{px_y(B-rad)} Q{px_x(R)},{px_y(B)} {px_x(R-rad)},{px_y(B)} "
        f"L{px_x(L+rad)},{px_y(B)} Q{px_x(L)},{px_y(B)} {px_x(L)},{px_y(B-rad)} "
        f"L{px_x(L)},{px_y(T+rad)} Q{px_x(L)},{px_y(T)} {px_x(L+rad)},{px_y(T)} Z")
shapes.append(dict(type="path", xref="paper", yref="paper", path=path, fillcolor="rgba(255,255,255,0.8)",
                   line=dict(color="#d6d6d6", width=4), layer="above"))
for name, color, yc in zip(series_names, BASE, [80, 153, 226]):
    shapes.append(dict(type="rect", xref="paper", yref="paper", x0=px_x(3426), x1=px_x(3532),
                       y0=px_y(yc - 20), y1=px_y(yc + 20), fillcolor=rgba(color, 1), line=dict(width=0), layer="above"))
    text(name, 3568, yc, 50, xanchor="left")

fig.update_layout(width=W, height=H, margin=dict(l=0, r=0, t=0, b=0, pad=0), autosize=False,
                  paper_bgcolor="white", plot_bgcolor="white", showlegend=False,
                  annotations=annotations, shapes=shapes, font=dict(family=FONT))

fig.write_html("out.html", config={"displayModeBar": False},
               post_script="document.body.style.margin='0';document.documentElement.style.overflow='hidden';")
